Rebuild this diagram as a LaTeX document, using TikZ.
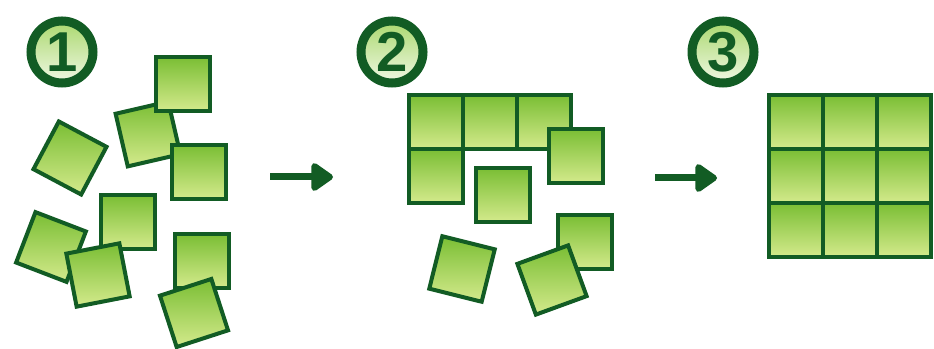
\documentclass[tikz,border=0pt]{standalone}
\usepackage{fontspec}
\setmainfont{Liberation Sans}
\usetikzlibrary{arrows.meta}
\definecolor{edgegreen}{RGB}{18,92,36}
\definecolor{topgreen}{RGB}{122,190,52}
\definecolor{botgreen}{RGB}{212,234,140}
\definecolor{ringin}{RGB}{170,216,110}
\definecolor{ringout}{RGB}{240,248,228}
\tikzset{
  tile/.style={draw=edgegreen, line width=0.12cm, inner sep=0pt, outer sep=0pt,
    minimum size=1.62cm, top color=topgreen, bottom color=botgreen, shape=rectangle},
  badge/.style={circle, draw=edgegreen, line width=0.27cm, inner sep=0pt,
    minimum size=1.86cm, top color=ringin, bottom color=ringout,
    text=edgegreen, font=\fontsize{48}{48}\selectfont\bfseries},
  steparrow/.style={draw=edgegreen, line width=0.21cm,
    -{Triangle[length=0.72cm,width=0.95cm,round]}}
}
\begin{document}
\begin{tikzpicture}[x=0.03cm,y=-0.03cm]
\useasboundingbox (0,0) rectangle (934,349);
% badges
\node[badge] (b1) at (62,52) {1};
\node[badge] (b2) at (392,52) {2};
\node[badge] (b3) at (723,52) {3};
% panel 1
\node[tile, rotate=13]  (p1b) at (148,134) {};
\node[tile]             (p1a) at (183,84) {};
\node[tile]             (p1c) at (199,172) {};
\node[tile, rotate=-28] (p1d) at (70,158) {};
\node[tile]             (p1e) at (128,222) {};
\node[tile, rotate=-21] (p1f) at (51,247) {};
\node[tile, rotate=11]  (p1g) at (98,275) {};
\node[tile]             (p1h) at (202,261) {};
\node[tile, rotate=18]  (p1i) at (194,313) {};
% arrow 1
\coordinate (a1s) at (270,177);
\coordinate (a1e) at (333,177);
\draw[steparrow] (a1s) -- (a1e);
% panel 2
\node[tile] (p2r1) at (436,122) {};
\node[tile] (p2r2) at (490,122) {};
\node[tile] (p2r3) at (544,122) {};
\node[tile] (p2r4) at (436,176) {};
\node[tile] (p2j) at (576,156) {};
\node[tile] (p2k) at (503,195) {};
\node[tile] (p2l) at (585,242) {};
\node[tile, rotate=-14] (p2m) at (462,269) {};
\node[tile, rotate=20]  (p2n) at (552,280) {};
% arrow 2
\coordinate (a2s) at (655,178);
\coordinate (a2e) at (717,178);
\draw[steparrow] (a2s) -- (a2e);
% panel 3
\foreach \i/\x in {1/796,2/850,3/904}{
  \foreach \j/\y in {1/122,2/176,3/230}{
    \node[tile] (g\i\j) at (\x,\y) {};
  }
}
\end{tikzpicture}
\end{document}
